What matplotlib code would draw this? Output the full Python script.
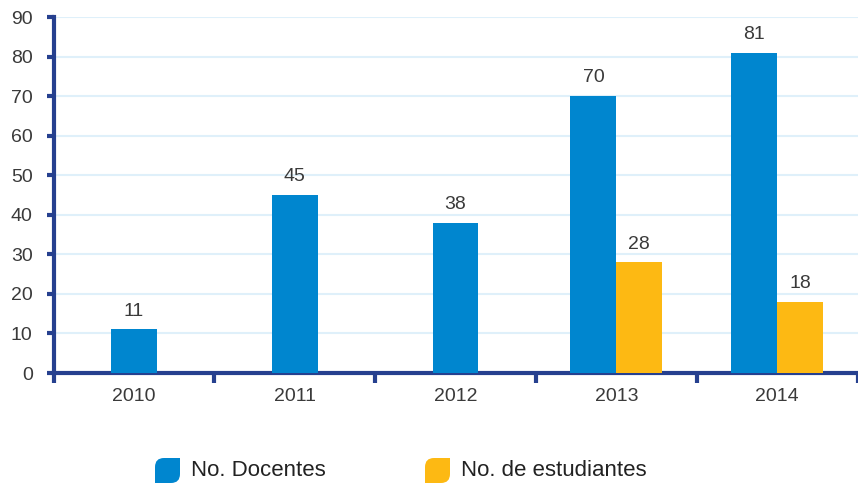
import matplotlib.pyplot as plt
import numpy as np
from matplotlib.path import Path
from matplotlib.patches import PathPatch

# datos
anios = ['2010', '2011', '2012', '2013', '2014']
docentes = [11, 45, 38, 70, 81]
estudiantes = [None, None, None, 28, 18]

azul = '#0086cf'
amarillo = '#fdb913'
marino = '#26408f'
gris = '#3a3a3a'

plt.rcParams['font.family'] = ['Liberation Sans', 'DejaVu Sans']

W, H = 858, 486
fig = plt.figure(figsize=(W / 100, H / 100), dpi=100)
ax = fig.add_axes([53.5 / W, (H - 373) / H, (857.5 - 53.5) / W, (373 - 17) / H])

ancho = 0.285
x = np.arange(len(anios))
for i in x:
    if estudiantes[i] is None:
        xd = i
    else:
        xd = i - ancho / 2
        xe = i + ancho / 2
        ax.bar(xe, estudiantes[i], width=ancho, color=amarillo, zorder=3)
        ax.annotate(str(estudiantes[i]), (xe, estudiantes[i]), xytext=(0, 7),
                    textcoords='offset points', ha='center', va='bottom',
                    fontsize=14, color=gris)
    ax.bar(xd, docentes[i], width=ancho, color=azul, zorder=3)
    ax.annotate(str(docentes[i]), (xd, docentes[i]), xytext=(0, 7),
                textcoords='offset points', ha='center', va='bottom',
                fontsize=14, color=gris)

ax.set_xlim(-0.5, 4.5)
ax.set_ylim(0, 90)
ax.set_yticks(range(0, 91, 10))
ax.set_xticks(x)
ax.set_xticklabels(anios)
ax.set_xticks(np.arange(-0.5, 4.6, 1), minor=True)

for s in ['top', 'right']:
    ax.spines[s].set_visible(False)
for s in ['left', 'bottom']:
    ax.spines[s].set_color(marino)
    ax.spines[s].set_linewidth(3)

ax.grid(axis='y', color='#dff0fa', linewidth=1.5, zorder=0)
ax.tick_params(axis='y', length=5, width=3, color=marino, labelsize=14,
               labelcolor=gris, pad=10)
ax.tick_params(axis='x', which='major', length=0, labelsize=14,
               labelcolor=gris, pad=11)
ax.tick_params(axis='x', which='minor', length=7, width=3, color=marino)


def hoja(x0, y0, lado=25, r=9):
    # cuadrado con esquinas superior izquierda e inferior derecha redondeadas
    p = [(x0, y0), (x0 + lado - r, y0), (x0 + lado, y0), (x0 + lado, y0 + r),
         (x0 + lado, y0 + lado), (x0 + r, y0 + lado), (x0, y0 + lado),
         (x0, y0 + lado - r), (x0, y0)]
    c = [Path.MOVETO, Path.LINETO, Path.CURVE3, Path.CURVE3, Path.LINETO,
         Path.LINETO, Path.CURVE3, Path.CURVE3, Path.CLOSEPOLY]
    return Path([(a / W, b / H) for a, b in p], c)


leyenda = [('No. Docentes', azul, 155), ('No. de estudiantes', amarillo, 425)]
for texto, color, px in leyenda:
    fig.add_artist(PathPatch(hoja(px, H - 483), facecolor=color,
                             edgecolor='none', transform=fig.transFigure))
    fig.text((px + 36) / W, (H - 470) / H, texto, fontsize=16, color='#222222',
             va='center', ha='left')

fig.savefig('out.png', dpi=100)
